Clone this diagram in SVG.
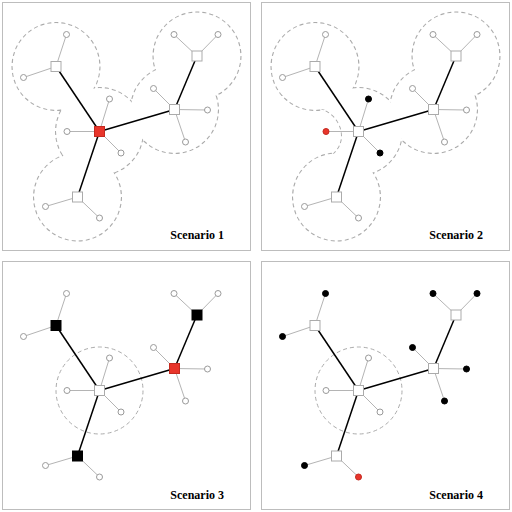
<svg xmlns="http://www.w3.org/2000/svg" width="512" height="512" viewBox="0 0 512 512">
<style>
.frame{fill:#fff;stroke:#bdbdbd;stroke-width:1}
.hull{fill:none;stroke:#ababab;stroke-width:2;stroke-dasharray:4 3}
.hullfill{fill:#fff;stroke:none}
.ring{fill:none;stroke:#ababab;stroke-width:1;stroke-dasharray:4 3}
.le{stroke:#b4b4b4;stroke-width:1}
.be{stroke:#000;stroke-width:1.5}
.sq{fill:#fff;stroke:#ababab;stroke-width:1}
.lf{fill:#fff;stroke:#9a9a9a;stroke-width:1}
.sq.k,.lf.k{fill:#000;stroke:#000}
.sq.r,.lf.r{fill:#e8352b;stroke:#c42a20}
.lbl{font-family:"Liberation Serif","Times New Roman",serif;font-weight:bold;font-size:12px;text-anchor:end;fill:#000}
</style>
<defs>
<g id="hullCircles">
<circle cx="56" cy="66.5" r="43.5"/>
<circle cx="197" cy="56" r="43.5"/>
<circle cx="174.5" cy="109.5" r="43.5"/>
<circle cx="77.5" cy="197" r="43.5"/>
</g>
<path id="bridge" d="M40,88 L24,95 C35,101 52,104 64,109 C76,114 83,125 83,136 C83,147 76,155 64,162 C55,167 47,171 41.5,178 L60,185 L84.6,172.4 A43.5,43.5 0 1 0 77.75,93.8 Z"/>
<g id="leafEdges">
<line x1="56" y1="66.5" x2="66.5" y2="34.5"/>
<line x1="56" y1="66.5" x2="23.5" y2="77.5"/>
<line x1="99.5" y1="131.5" x2="109.5" y2="99"/>
<line x1="99.5" y1="131.5" x2="67" y2="131.5"/>
<line x1="99.5" y1="131.5" x2="121" y2="153"/>
<line x1="197" y1="56" x2="174" y2="34.5"/>
<line x1="197" y1="56" x2="218" y2="34.5"/>
<line x1="174.5" y1="109.5" x2="153.5" y2="88.5"/>
<line x1="174.5" y1="109.5" x2="207.5" y2="110"/>
<line x1="174.5" y1="109.5" x2="185.5" y2="142"/>
<line x1="77.5" y1="197" x2="45.5" y2="206.5"/>
<line x1="77.5" y1="197" x2="99.5" y2="218"/>
</g>
<g id="bigEdges">
<line x1="99.5" y1="131.5" x2="56" y2="66.5"/>
<line x1="99.5" y1="131.5" x2="174.5" y2="109.5"/>
<line x1="99.5" y1="131.5" x2="77.5" y2="197"/>
<line x1="174.5" y1="109.5" x2="197" y2="56"/>
</g>
</defs>

<!-- Scenario 1 -->
<g id="panel1">
<rect class="frame" x="2.5" y="2.5" width="248" height="248"/>
<g id="p1-hull">
<use href="#hullCircles" class="hull"/>
<circle class="hull" cx="99.5" cy="131.5" r="43.5"/>
<use href="#hullCircles" class="hullfill"/>
<circle class="hullfill" cx="99.5" cy="131.5" r="43.5"/>
</g>
<g id="p1-connectors">
<use href="#leafEdges" class="le"/>
<use href="#bigEdges" class="be"/>
</g>
<g id="p1-tl"><rect class="sq" x="51" y="61.5" width="10" height="10"/><circle class="lf" cx="66.5" cy="34.5" r="3"/><circle class="lf" cx="23.5" cy="77.5" r="3"/></g>
<g id="p1-c"><rect class="sq r" x="94.5" y="126.5" width="10" height="10"/><circle class="lf" cx="109.5" cy="99" r="3"/><circle class="lf" cx="67" cy="131.5" r="3"/><circle class="lf" cx="121" cy="153" r="3"/></g>
<g id="p1-tr"><rect class="sq" x="192" y="51" width="10" height="10"/><circle class="lf" cx="174" cy="34.5" r="3"/><circle class="lf" cx="218" cy="34.5" r="3"/></g>
<g id="p1-rm"><rect class="sq" x="169.5" y="104.5" width="10" height="10"/><circle class="lf" cx="153.5" cy="88.5" r="3"/><circle class="lf" cx="207.5" cy="110" r="3"/><circle class="lf" cx="185.5" cy="142" r="3"/></g>
<g id="p1-b"><rect class="sq" x="72.5" y="192" width="10" height="10"/><circle class="lf" cx="45.5" cy="206.5" r="3"/><circle class="lf" cx="99.5" cy="218" r="3"/></g>
<text class="lbl" x="224" y="239">Scenario 1</text>
</g>

<!-- Scenario 2 -->
<g id="panel2" transform="translate(259,0)">
<rect class="frame" x="2.5" y="2.5" width="248" height="248"/>
<g id="p2-hull">
<use href="#hullCircles" class="hull"/>
<use href="#bridge" class="hull"/>
<use href="#hullCircles" class="hullfill"/>
<use href="#bridge" class="hullfill"/>
</g>
<g id="p2-connectors">
<use href="#leafEdges" class="le"/>
<use href="#bigEdges" class="be"/>
</g>
<g id="p2-tl"><rect class="sq" x="51" y="61.5" width="10" height="10"/><circle class="lf" cx="66.5" cy="34.5" r="3"/><circle class="lf" cx="23.5" cy="77.5" r="3"/></g>
<g id="p2-c"><rect class="sq" x="94.5" y="126.5" width="10" height="10"/><circle class="lf k" cx="109.5" cy="99" r="3"/><circle class="lf r" cx="67" cy="131.5" r="3"/><circle class="lf k" cx="121" cy="153" r="3"/></g>
<g id="p2-tr"><rect class="sq" x="192" y="51" width="10" height="10"/><circle class="lf" cx="174" cy="34.5" r="3"/><circle class="lf" cx="218" cy="34.5" r="3"/></g>
<g id="p2-rm"><rect class="sq" x="169.5" y="104.5" width="10" height="10"/><circle class="lf" cx="153.5" cy="88.5" r="3"/><circle class="lf" cx="207.5" cy="110" r="3"/><circle class="lf" cx="185.5" cy="142" r="3"/></g>
<g id="p2-b"><rect class="sq" x="72.5" y="192" width="10" height="10"/><circle class="lf" cx="45.5" cy="206.5" r="3"/><circle class="lf" cx="99.5" cy="218" r="3"/></g>
<text class="lbl" x="224" y="239">Scenario 2</text>
</g>

<!-- Scenario 3 -->
<g id="panel3" transform="translate(0,259)">
<rect class="frame" x="2.5" y="2.5" width="248" height="248"/>
<circle class="ring" cx="99.5" cy="131.5" r="43.5"/>
<g id="p3-connectors">
<use href="#leafEdges" class="le"/>
<use href="#bigEdges" class="be"/>
</g>
<g id="p3-tl"><rect class="sq k" x="51" y="61.5" width="10" height="10"/><circle class="lf" cx="66.5" cy="34.5" r="3"/><circle class="lf" cx="23.5" cy="77.5" r="3"/></g>
<g id="p3-c"><rect class="sq" x="94.5" y="126.5" width="10" height="10"/><circle class="lf" cx="109.5" cy="99" r="3"/><circle class="lf" cx="67" cy="131.5" r="3"/><circle class="lf" cx="121" cy="153" r="3"/></g>
<g id="p3-tr"><rect class="sq k" x="192" y="51" width="10" height="10"/><circle class="lf" cx="174" cy="34.5" r="3"/><circle class="lf" cx="218" cy="34.5" r="3"/></g>
<g id="p3-rm"><rect class="sq r" x="169.5" y="104.5" width="10" height="10"/><circle class="lf" cx="153.5" cy="88.5" r="3"/><circle class="lf" cx="207.5" cy="110" r="3"/><circle class="lf" cx="185.5" cy="142" r="3"/></g>
<g id="p3-b"><rect class="sq k" x="72.5" y="192" width="10" height="10"/><circle class="lf" cx="45.5" cy="206.5" r="3"/><circle class="lf" cx="99.5" cy="218" r="3"/></g>
<text class="lbl" x="224" y="240">Scenario 3</text>
</g>

<!-- Scenario 4 -->
<g id="panel4" transform="translate(259,259)">
<rect class="frame" x="2.5" y="2.5" width="248" height="248"/>
<circle class="ring" cx="99.5" cy="131.5" r="43.5"/>
<g id="p4-connectors">
<use href="#leafEdges" class="le"/>
<use href="#bigEdges" class="be"/>
</g>
<g id="p4-tl"><rect class="sq" x="51" y="61.5" width="10" height="10"/><circle class="lf k" cx="66.5" cy="34.5" r="3"/><circle class="lf k" cx="23.5" cy="77.5" r="3"/></g>
<g id="p4-c"><rect class="sq" x="94.5" y="126.5" width="10" height="10"/><circle class="lf" cx="109.5" cy="99" r="3"/><circle class="lf" cx="67" cy="131.5" r="3"/><circle class="lf" cx="121" cy="153" r="3"/></g>
<g id="p4-tr"><rect class="sq" x="192" y="51" width="10" height="10"/><circle class="lf k" cx="174" cy="34.5" r="3"/><circle class="lf k" cx="218" cy="34.5" r="3"/></g>
<g id="p4-rm"><rect class="sq" x="169.5" y="104.5" width="10" height="10"/><circle class="lf k" cx="153.5" cy="88.5" r="3"/><circle class="lf k" cx="207.5" cy="110" r="3"/><circle class="lf k" cx="185.5" cy="142" r="3"/></g>
<g id="p4-b"><rect class="sq" x="72.5" y="192" width="10" height="10"/><circle class="lf k" cx="45.5" cy="206.5" r="3"/><circle class="lf r" cx="99.5" cy="218" r="3"/></g>
<text class="lbl" x="224" y="240">Scenario 4</text>
</g>
</svg>
